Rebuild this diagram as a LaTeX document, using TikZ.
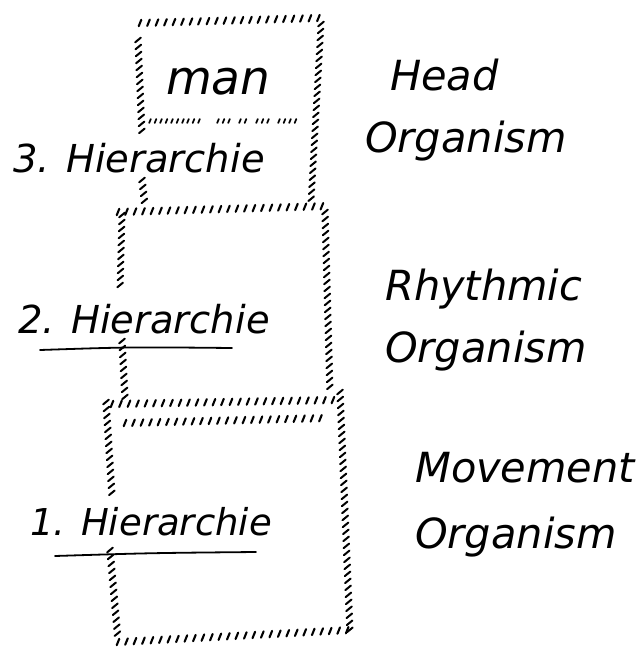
\documentclass[tikz,border=0pt]{standalone}
\usepackage{fontspec}
\newfontfamily\hand{DejaVu Sans}[ItalicFont={DejaVu Sans Oblique}]
\usetikzlibrary{decorations.markings}
\tikzset{
  hh/.style={decorate, decoration={markings, mark=between positions 0 and 1 step 8.5pt with {\pgftransformresetnontranslations \draw[line width=2.1pt, line cap=round] (-1.3pt,-3.2pt)--(1.3pt,3.2pt);}}},
  hv/.style={decorate, decoration={markings, mark=between positions 0 and 1 step 7pt with {\pgftransformresetnontranslations \draw[line width=2pt, line cap=round] (-2.8pt,-2.3pt)--(2.8pt,2.3pt);}}},
  hd/.style={decorate, decoration={markings, mark=between positions 0 and 1 step 5.5pt with {\pgftransformresetnontranslations \draw[line width=1.7pt, line cap=round] (-0.8pt,-2pt)--(0.8pt,2pt);}}},
  lbl/.style={inner sep=0pt, anchor=base west, font=\hand\itshape\fontsize{38.5}{42}\selectfont},
  big/.style={lbl, font=\hand\itshape\fontsize{41.5}{46}\selectfont},
  huge/.style={lbl, font=\hand\itshape\fontsize{47}{50}\selectfont},
  uline/.style={line width=1.8pt, line cap=round},
}
\begin{document}
\begin{tikzpicture}[x=1pt,y=-1pt]
\useasboundingbox (0,0) rectangle (644,648);
% texts
\node[huge] (man) at (166,94) {man};
\node[big] (head) at (390,90) {Head};
\node[big] (org1) at (365,152) {Organism};
\node[lbl] (h3) at (13,172) {3. Hierarchie};
\node[big] (rhy) at (385,300) {Rhythmic};
\node[big] (org2) at (385,362) {Organism};
\node[lbl] (h2) at (18,333) {2. Hierarchie};
\node[big] (mov) at (415,482) {Movement};
\node[big] (org3) at (415,548) {Organism};
\node[lbl, font=\hand\itshape\fontsize{37}{40}\selectfont] (h1) at (30,535) {1. Hierarchie};
% underlines
\draw[uline] (40,350) .. controls (130,347) .. (232,348);
\draw[uline] (55,556) .. controls (150,553) .. (256,552);
% top box
\path[hh] (140,23) -- (320,18);
\path[hv] (321,24) -- (311,202);
\path[hv] (138,40) -- (142,135);
\path[hv] (142,180) -- (145,206);
\path[hd] (150,121) -- (167,121);
\path[hd] (172,121) -- (183,121);
\path[hd] (188,121) -- (200,121);
\path[hd] (218,121) -- (233,121);
\path[hd] (240,121) -- (248,121);
\path[hd] (257,121) -- (273,121);
\path[hd] (279,121) -- (297,121);
% middle box
\path[hh] (118,212) -- (330,206);
\path[hv] (122,215) -- (120,290);
\path[hv] (122,341) -- (125,398);
\path[hv] (325,212) -- (330,393);
\path[hh] (112,404) -- (335,400);
% bottom box
\path[hh] (125,423) -- (328,418);
\path[hv] (340,392) -- (350,632);
\path[hv] (106,402) -- (112,495);
\path[hv] (110,550) -- (118,640);
\path[hh] (118,642) -- (350,630);
\end{tikzpicture}
\end{document}
